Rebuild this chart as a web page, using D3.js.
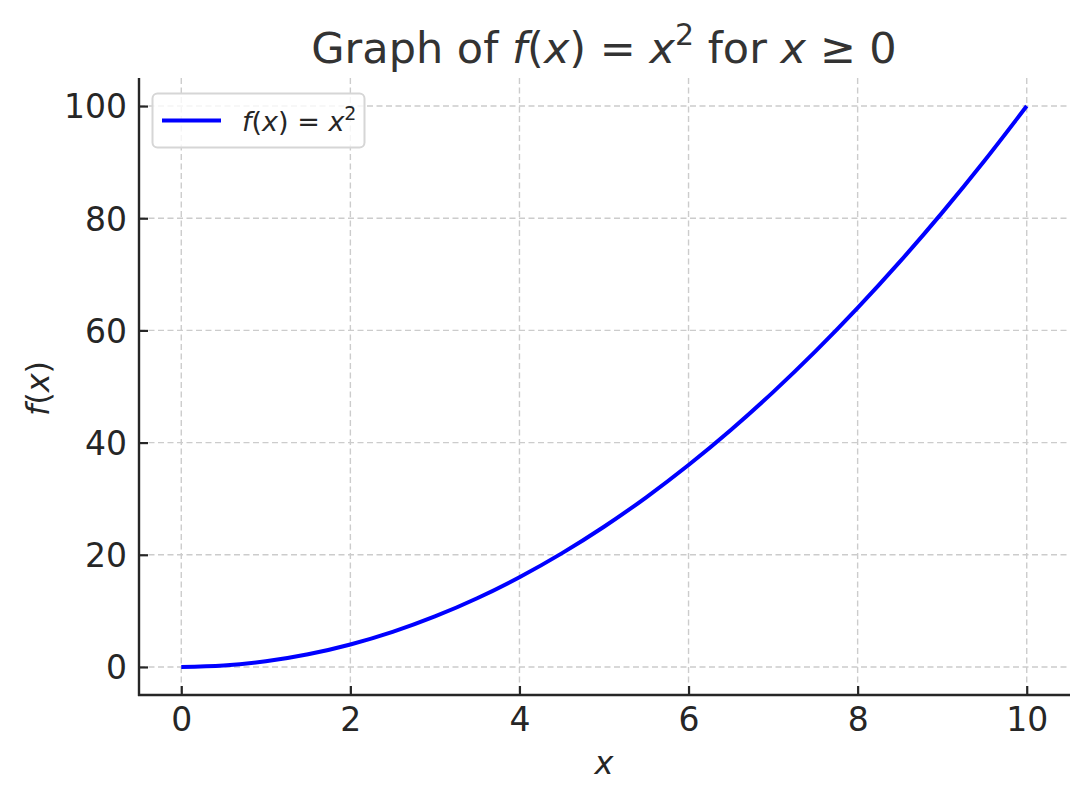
<!DOCTYPE html>
<html>
<head>
<meta charset="utf-8">
<script src="https://cdn.jsdelivr.net/npm/d3@7"></script>
<style>
  body { margin: 0; background: #fff; }
  text { font-family: "DejaVu Sans", sans-serif; }
</style>
</head>
<body>
<div class="chart"></div>
<script>
// values
var xValues = [0, 0.5, 1, 1.5, 2, 2.5, 3, 3.5, 4, 4.5, 5, 5.5, 6, 6.5, 7, 7.5, 8, 8.5, 9, 9.5, 10]
var yValues = [0, 0.25, 1, 2.25, 4, 6.25, 9, 12.25, 16, 20.25, 25, 30.25, 36, 42.25, 49, 56.25, 64, 72.25, 81, 90.25, 100]
var xTicks = [0, 2, 4, 6, 8, 10]
var yTicks = [0, 20, 40, 60, 80, 100]

var width = 1088
var height = 802
var plotL = 139, plotR = 1069, plotT = 78, plotB = 695

var svg = d3.select('.chart')
  .append('svg')
  .attr('width', width)
  .attr('height', height)

var x = d3.scaleLinear().domain([-0.5, 10.5]).range([plotL, plotR])
var y = d3.scaleLinear().domain([-5, 105]).range([plotB, plotT])

// grid
svg.append('g')
  .selectAll('line')
  .data(xTicks)
  .enter()
  .append('line')
  .attr('x1', d => x(d)).attr('x2', d => x(d))
  .attr('y1', plotT).attr('y2', plotB)
  .attr('stroke', '#cccccc')
  .attr('stroke-width', 1.4)
  .attr('stroke-dasharray', '6,3.5')

svg.append('g')
  .selectAll('line')
  .data(yTicks)
  .enter()
  .append('line')
  .attr('x1', plotL).attr('x2', plotR)
  .attr('y1', d => y(d)).attr('y2', d => y(d))
  .attr('stroke', '#cccccc')
  .attr('stroke-width', 1.4)
  .attr('stroke-dasharray', '6,3.5')

// curve
var pts = xValues.map((v, i) => [v, yValues[i]])
svg.append('path')
  .datum(pts)
  .attr('fill', 'none')
  .attr('stroke', '#0000ff')
  .attr('stroke-width', 4)
  .attr('d', d3.line().x(d => x(d[0])).y(d => y(d[1])).curve(d3.curveMonotoneX))

// axes, ticks pointing inward
var xAxis = svg.append('g')
  .attr('transform', 'translate(0,' + plotB + ')')
  .call(d3.axisBottom(x).tickValues(xTicks).tickSizeInner(-9).tickSizeOuter(0))
var yAxis = svg.append('g')
  .attr('transform', 'translate(' + plotL + ',0)')
  .call(d3.axisLeft(y).tickValues(yTicks).tickSizeInner(-9).tickSizeOuter(0))

;[xAxis, yAxis].forEach(function(g){
  g.attr('font-size', 33).attr('font-family', '"DejaVu Sans", sans-serif')
  g.select('.domain').attr('stroke', '#262626').attr('stroke-width', 2.4)
  g.selectAll('.tick line').attr('stroke', '#262626').attr('stroke-width', 2.2)
  g.selectAll('.tick text').attr('fill', '#262626')
})
xAxis.selectAll('.tick text').attr('dy', 0).attr('y', 36)
yAxis.selectAll('.tick text').attr('dy', '0.36em').attr('x', -12)
xAxis.select('.domain').attr('d', 'M' + (plotL - 1) + ',0H' + (plotR + 1))
yAxis.select('.domain').attr('d', 'M0,' + plotT + 'V' + (plotB + 1))

// title
var title = svg.append('text')
  .attr('x', (plotL + plotR) / 2)
  .attr('y', 63)
  .attr('text-anchor', 'middle')
  .attr('fill', '#333333')
  .style('font-size', '43px')
title.append('tspan').text('Graph of ')
title.append('tspan').style('font-style', 'italic').text('f')
title.append('tspan').text('(')
title.append('tspan').style('font-style', 'italic').text('x')
title.append('tspan').text(') = ')
title.append('tspan').style('font-style', 'italic').text('x')
title.append('tspan').attr('dy', -18).style('font-size', '30px').text('2')
title.append('tspan').attr('dy', 18).text(' for ')
title.append('tspan').style('font-style', 'italic').text('x')
title.append('tspan').text(' ≥ 0')

// axis labels
svg.append('text')
  .attr('x', (plotL + plotR) / 2)
  .attr('y', 774)
  .attr('text-anchor', 'middle')
  .attr('fill', '#262626')
  .style('font-size', '32px')
  .style('font-style', 'italic')
  .text('x')

var yl = svg.append('text')
  .attr('transform', 'translate(49,' + ((plotT + plotB) / 2 + 2) + ') rotate(-90)')
  .attr('text-anchor', 'middle')
  .attr('fill', '#262626')
  .style('font-size', '32px')
yl.append('tspan').style('font-style', 'italic').text('f')
yl.append('tspan').text('(')
yl.append('tspan').style('font-style', 'italic').text('x')
yl.append('tspan').text(')')

// legend
var lg = svg.append('g')
lg.append('rect')
  .attr('x', 152.5).attr('y', 93.5)
  .attr('width', 212).attr('height', 54)
  .attr('rx', 5)
  .attr('fill', 'rgba(255,255,255,0.8)')
  .attr('stroke', '#d6d6d6')
  .attr('stroke-width', 2)
lg.append('line')
  .attr('x1', 162).attr('x2', 221)
  .attr('y1', 120.5).attr('y2', 120.5)
  .attr('stroke', '#0000ff')
  .attr('stroke-width', 4)
var lt = lg.append('text')
  .attr('x', 242).attr('y', 131)
  .attr('fill', '#262626')
  .style('font-size', '27px')
lt.append('tspan').style('font-style', 'italic').text('f')
lt.append('tspan').text('(')
lt.append('tspan').style('font-style', 'italic').text('x')
lt.append('tspan').text(') = ')
lt.append('tspan').style('font-style', 'italic').text('x')
lt.append('tspan').attr('dy', -11).style('font-size', '19px').text('2')
</script>
</body>
</html>
